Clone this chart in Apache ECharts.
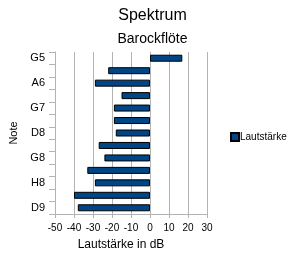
<!DOCTYPE html>
<html>
<head>
<meta charset="utf-8">
<script src="https://cdn.jsdelivr.net/npm/echarts@6/dist/echarts.min.js"></script>
<style>
  html, body { margin: 0; padding: 0; background: #fff; }
  #chart { width: 305px; height: 267px; }
</style>
</head>
<body>
<div id="chart"></div>
<script>
// Noten (nur jede zweite wird beschriftet)
var notes = ['G5', 'D6', 'A6', 'C7', 'G7', 'A7', 'D8', 'F8', 'G8', 'A8', 'H8', 'C9', 'D9']
// Lautstärke in dB
var lautstaerke = [17, -22, -29, -15, -19, -19, -18, -27, -24, -33, -29, -40, -38]
var xTicks = { min: -50, max: 30, step: 10 }

var font = 'Liberation Sans, Arial, sans-serif'
var grau = '#b3b3b3'

var myChart = echarts.init(document.getElementById('chart'))
var option = {
  animation: false,
  textStyle: { fontFamily: font, color: '#000' },
  title: {
    text: 'Spektrum',
    subtext: 'Barockflöte',
    left: 'center',
    top: 3,
    itemGap: 8,
    textStyle: { fontFamily: font, fontSize: 16, fontWeight: 'normal', color: '#000' },
    subtextStyle: { fontFamily: font, fontSize: 14, color: '#000' }
  },
  legend: {
    data: ['Lautstärke'],
    orient: 'vertical',
    left: 225,
    top: 127,
    itemWidth: 8,
    itemHeight: 8,
    itemGap: 4,
    icon: 'rect',
    textStyle: { fontFamily: font, fontSize: 10, color: '#000', padding: [0, 0, 0, -4] }
  },
  grid: { left: 52, right: 98, top: 52, bottom: 53 },
  xAxis: {
    type: 'value',
    min: xTicks.min,
    max: xTicks.max,
    interval: xTicks.step,
    name: 'Lautstärke in dB',
    nameLocation: 'middle',
    nameGap: 25,
    nameTextStyle: { fontFamily: font, fontSize: 12, color: '#000', padding: [0, 20, 0, 0] },
    axisLine: { show: true, lineStyle: { color: grau } },
    axisTick: { show: true, length: 4, lineStyle: { color: grau } },
    axisLabel: { fontFamily: font, fontSize: 10, color: '#000', margin: 9 },
    splitLine: { show: true, lineStyle: { color: grau } }
  },
  yAxis: {
    type: 'category',
    data: notes,
    inverse: true,
    name: 'Note',
    nameLocation: 'middle',
    nameGap: 36,
    nameTextStyle: { fontFamily: font, fontSize: 11, color: '#000', padding: [20, 0, 0, 0] },
    axisLine: { show: true, onZero: false, lineStyle: { color: grau } },
    axisTick: { show: true, interval: 0, length: 6, lineStyle: { color: grau } },
    axisLabel: { interval: 1, fontFamily: font, fontSize: 11, color: '#000', margin: 10 },
    splitLine: { show: false }
  },
  series: [
    {
      name: 'Lautstärke',
      type: 'bar',
      barWidth: 7,
      itemStyle: { color: '#004586', borderColor: '#000', borderWidth: 1 },
      data: lautstaerke
    }
  ]
}
myChart.setOption(option)
</script>
</body>
</html>
